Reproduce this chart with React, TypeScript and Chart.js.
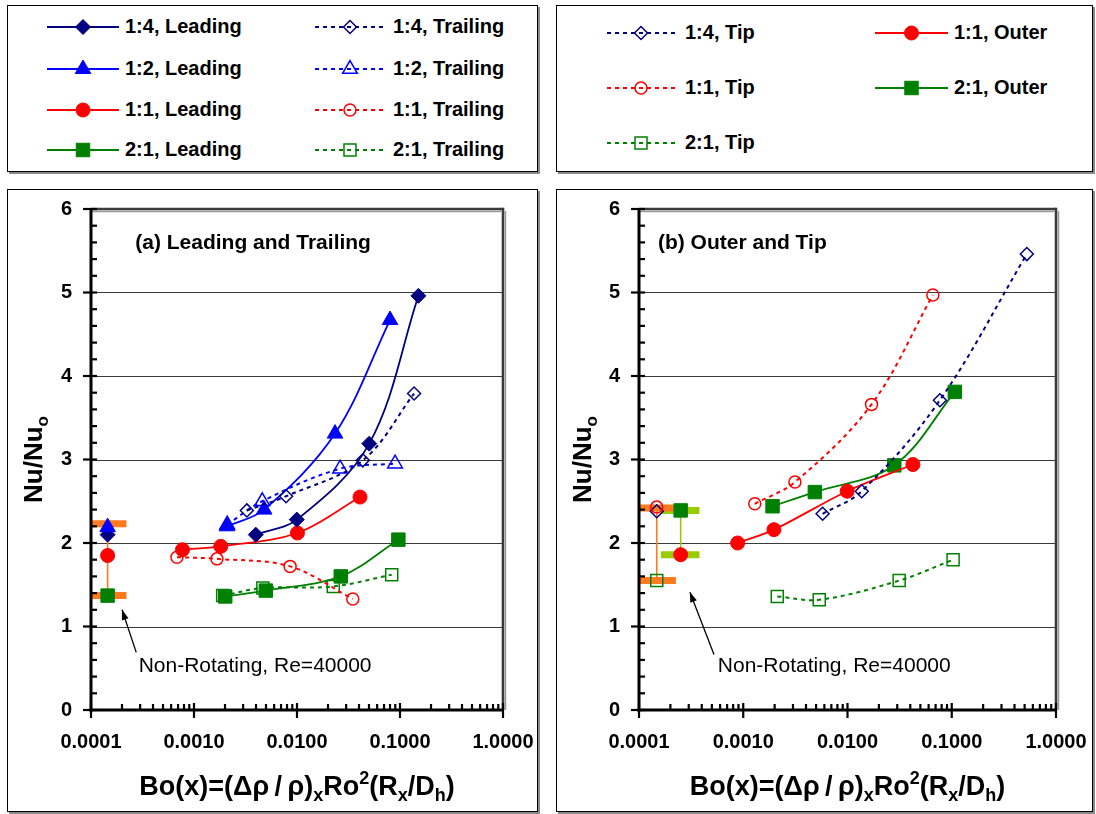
import React, { useEffect, useRef } from "react";
import { Chart, registerables } from "chart.js";
Chart.register(...registerables);

const FONT = '"Liberation Sans", Arial, Helvetica, sans-serif';

// ---------- Panel (a): Leading and Trailing ----------
const a14LeadX = [0.00398, 0.00995, 0.0503, 0.151];
const a14LeadY = [2.1, 2.28, 3.19, 4.96];
const a14TrailX = [0.00326, 0.00783, 0.0435, 0.137];
const a14TrailY = [2.39, 2.56, 2.99, 3.79];
const a12LeadX = [0.00209, 0.0048, 0.0234, 0.08];
const a12LeadY = [2.2, 2.4, 3.31, 4.67];
const a12TrailX = [0.0021, 0.0046, 0.0262, 0.0895];
const a12TrailY = [2.22, 2.5, 2.89, 2.95];
const a11LeadX = [0.000773, 0.00182, 0.0101, 0.0409];
const a11LeadY = [1.92, 1.96, 2.12, 2.55];
const a11TrailX = [0.000683, 0.00167, 0.00857, 0.0348];
const a11TrailY = [1.83, 1.81, 1.72, 1.33];
const a21LeadX = [0.00201, 0.00498, 0.0266, 0.0964];
const a21LeadY = [1.36, 1.43, 1.6, 2.04];
const a21TrailX = [0.0019, 0.00466, 0.0225, 0.0831];
const a21TrailY = [1.37, 1.46, 1.48, 1.62];
// non-rotating values (Re=40000)
const aNonRotX = [0.000145];
const aNonRot12Lead = [2.19];
const aNonRot14Lead = [2.1];
const aNonRot11Lead = [1.85];
const aNonRot21Lead = [1.37];
const aRangeX = [0.0000955, 0.000221];
const aRangeY = [2.23, 1.37];

// ---------- Panel (b): Outer and Tip ----------
const b14TipX = [0.00577, 0.0137, 0.0769, 0.525];
const b14TipY = [2.35, 2.62, 3.71, 5.46];
const b11TipX = [0.00129, 0.00313, 0.017, 0.0659];
const b11TipY = [2.47, 2.73, 3.66, 4.97];
const b21TipX = [0.00212, 0.00536, 0.0313, 0.103];
const b21TipY = [1.36, 1.32, 1.55, 1.8];
const b11OutX = [0.000883, 0.00197, 0.00993, 0.0424];
const b11OutY = [2.0, 2.16, 2.62, 2.94];
const b21OutX = [0.00191, 0.00486, 0.0281, 0.107];
const b21OutY = [2.44, 2.61, 2.93, 3.81];
const bNonRotTipX = [0.000148];
const bNonRot11Tip = [2.43];
const bNonRot14Tip = [2.38];
const bNonRot21Tip = [1.55];
const bNonRotOutX = [0.000251];
const bNonRot21Out = [2.39];
const bNonRot11Out = [1.86];
const bTipRangeX = [0.0000977, 0.000226];
const bTipRangeY = [2.42, 1.55];
const bOutRangeX = [0.000162, 0.00038];
const bOutRangeY = [2.39, 1.86];

// ---------- axes ----------
const xTickValues = [0.0001, 0.001, 0.01, 0.1, 1];
const yTickValues = [0, 1, 2, 3, 4, 5, 6];

type Shape = "diamond" | "triangle" | "circle" | "square";
type Sty = { color: string; shape: Shape; filled: boolean; dashed: boolean };

const S: Record<string, Sty> = {
  navyLead: { color: "#000080", shape: "diamond", filled: true, dashed: false },
  navyTrail: { color: "#000080", shape: "diamond", filled: false, dashed: true },
  blueLead: { color: "#0000FF", shape: "triangle", filled: true, dashed: false },
  blueTrail: { color: "#0000FF", shape: "triangle", filled: false, dashed: true },
  redLead: { color: "#FF0000", shape: "circle", filled: true, dashed: false },
  redTrail: { color: "#FF0000", shape: "circle", filled: false, dashed: true },
  greenLead: { color: "#008000", shape: "square", filled: true, dashed: false },
  greenTrail: { color: "#008000", shape: "square", filled: false, dashed: true },
};

const ORANGE = "#FF7A1F";
const LIME = "#99CC00";

const RAD: Record<string, Record<Shape, number>> = {
  f: { diamond: 7.5, triangle: 9, circle: 7, square: 9.5 },
  o: { diamond: 6.5, triangle: 8.5, circle: 6, square: 8.5 },
};
const PSTYLE: Record<Shape, string> = { diamond: "rectRot", triangle: "triangle", circle: "circle", square: "rect" };

function ds(xs: number[], ys: number[], st: Sty, showLine = true) {
  return {
    data: xs.map((x, i) => ({ x, y: ys[i] })),
    showLine,
    borderColor: st.color,
    backgroundColor: st.filled ? st.color : "rgba(0,0,0,0)",
    borderWidth: st.dashed ? 2 : 1.8,
    borderDash: st.dashed ? [4, 4] : [],
    tension: 0.35,
    pointStyle: PSTYLE[st.shape],
    pointRadius: RAD[st.filled ? "f" : "o"][st.shape],
    pointHoverRadius: RAD[st.filled ? "f" : "o"][st.shape],
    pointBorderWidth: st.filled ? 1 : 1.5,
    pointBorderColor: st.color,
    pointBackgroundColor: st.filled ? st.color : "rgba(0,0,0,0)",
    order: 1,
  };
}
function barDs(xs: number[], y: number, color: string) {
  return {
    data: xs.map((x) => ({ x, y })),
    showLine: true,
    borderColor: color,
    borderWidth: 7,
    pointRadius: 0,
    tension: 0,
    order: 10,
  };
}
function stemDs(x: number, ys: number[], color: string) {
  return {
    data: ys.map((y) => ({ x, y })),
    showLine: true,
    borderColor: color,
    borderWidth: 1.6,
    pointRadius: 0,
    tension: 0,
    order: 9,
  };
}

const datasetsA = [
  ds(a14LeadX, a14LeadY, S.navyLead),
  ds(a14TrailX, a14TrailY, S.navyTrail),
  ds(a12LeadX, a12LeadY, S.blueLead),
  ds(a12TrailX, a12TrailY, S.blueTrail),
  ds(a11LeadX, a11LeadY, S.redLead),
  ds(a11TrailX, a11TrailY, S.redTrail),
  ds(a21LeadX, a21LeadY, S.greenLead),
  ds(a21TrailX, a21TrailY, S.greenTrail),
  ds(aNonRotX, aNonRot12Lead, S.blueLead, false),
  ds(aNonRotX, aNonRot14Lead, S.navyLead, false),
  ds(aNonRotX, aNonRot11Lead, S.redLead, false),
  ds(aNonRotX, aNonRot21Lead, S.greenLead, false),
  barDs(aRangeX, aRangeY[0], ORANGE),
  barDs(aRangeX, aRangeY[1], ORANGE),
  stemDs(aNonRotX[0], aRangeY, ORANGE),
];

const datasetsB = [
  ds(b14TipX, b14TipY, S.navyTrail),
  ds(b11TipX, b11TipY, S.redTrail),
  ds(b21TipX, b21TipY, S.greenTrail),
  ds(b11OutX, b11OutY, S.redLead),
  ds(b21OutX, b21OutY, S.greenLead),
  ds(bNonRotTipX, bNonRot11Tip, S.redTrail, false),
  ds(bNonRotTipX, bNonRot14Tip, S.navyTrail, false),
  ds(bNonRotTipX, bNonRot21Tip, S.greenTrail, false),
  ds(bNonRotOutX, bNonRot21Out, S.greenLead, false),
  ds(bNonRotOutX, bNonRot11Out, S.redLead, false),
  barDs(bTipRangeX, bTipRangeY[0], ORANGE),
  barDs(bTipRangeX, bTipRangeY[1], ORANGE),
  stemDs(bNonRotTipX[0], bTipRangeY, ORANGE),
  barDs(bOutRangeX, bOutRangeY[0], LIME),
  barDs(bOutRangeX, bOutRangeY[1], LIME),
  stemDs(bNonRotOutX[0], bOutRangeY, LIME),
];

type Seg = { t: string; sub?: boolean; sup?: boolean };
const X_TITLE: Seg[] = [
  { t: "Bo(x)=(" },
  { t: "Δρ\u2009/\u2009ρ" },
  { t: ")" },
  { t: "x", sub: true },
  { t: "Ro" },
  { t: "2", sup: true },
  { t: "(R" },
  { t: "x", sub: true },
  { t: "/D" },
  { t: "h", sub: true },
  { t: ")" },
];
const Y_TITLE: Seg[] = [{ t: "Nu/Nu" }, { t: "o", sub: true }];

function drawRich(ctx: CanvasRenderingContext2D, segs: Seg[], x: number, y: number, size: number) {
  const fontOf = (s: Seg) => `bold ${s.sub || s.sup ? Math.round(size * 0.66) : size}px ${FONT}`;
  let total = 0;
  const ws = segs.map((s) => {
    ctx.font = fontOf(s);
    const w = ctx.measureText(s.t).width;
    total += w;
    return w;
  });
  let cx = x - total / 2;
  ctx.textAlign = "left";
  ctx.textBaseline = "alphabetic";
  segs.forEach((s, i) => {
    ctx.font = fontOf(s);
    const dy = s.sub ? size * 0.22 : s.sup ? -size * 0.42 : 0;
    ctx.fillText(s.t, cx, y + dy);
    cx += ws[i];
  });
}

const decor = {
  id: "decor",
  beforeDatasetsDraw(chart: any) {
    const { ctx, chartArea: a, scales } = chart;
    const y = scales.y;
    ctx.save();
    ctx.strokeStyle = "#3a3a3a";
    ctx.lineWidth = 1;
    for (let v = 1; v <= 5; v++) {
      const py = Math.round(y.getPixelForValue(v)) + 0.5;
      ctx.beginPath();
      ctx.moveTo(a.left, py);
      ctx.lineTo(a.right, py);
      ctx.stroke();
    }
    ctx.restore();
  },
  afterDatasetsDraw(chart: any) {
    const { ctx, chartArea: a, scales } = chart;
    const x = scales.x;
    const y = scales.y;
    const line = (x1: number, y1: number, x2: number, y2: number) => {
      ctx.beginPath();
      ctx.moveTo(x1, y1);
      ctx.lineTo(x2, y2);
      ctx.stroke();
    };
    ctx.save();
    // plot area border (top/right)
    ctx.strokeStyle = "#9a9a9a";
    ctx.lineWidth = 1.5;
    line(a.left, a.top + 2.5, a.right - 2, a.top + 2.5);
    line(a.right + 2.5, a.top + 2, a.right + 2.5, a.bottom);
    ctx.strokeStyle = "#3a3a3a";
    ctx.lineWidth = 2.6;
    line(a.left, a.top, a.right, a.top);
    line(a.right, a.top - 1.3, a.right, a.bottom);
    // axes
    ctx.strokeStyle = "#000";
    ctx.lineWidth = 3;
    line(a.left, a.top - 1, a.left, a.bottom + 1.5);
    line(a.left - 1.5, a.bottom, a.right + 1, a.bottom);
    // y ticks
    ctx.lineWidth = 2.2;
    for (let v = 0; v <= 6; v++) {
      const py = y.getPixelForValue(v);
      line(a.left - 8, py, a.left + 6, py);
    }
    for (let v = 0.2; v < 6; v += 0.2) {
      if (Math.abs(v - Math.round(v)) < 1e-6) continue;
      const py = y.getPixelForValue(v);
      line(a.left, py, a.left + 6, py);
    }
    // x ticks
    for (let d = -4; d <= 0; d++) {
      const px = x.getPixelForValue(Math.pow(10, d));
      line(px, a.bottom - 7, px, a.bottom + 8);
      if (d < 0) {
        for (let m = 2; m <= 9; m++) {
          const pm = x.getPixelForValue(m * Math.pow(10, d));
          line(pm, a.bottom - 6, pm, a.bottom);
        }
      }
    }
    ctx.restore();
  },
  afterDraw(chart: any, _args: any, o: any) {
    const { ctx, chartArea: a, scales } = chart;
    const x = scales.x;
    const y = scales.y;
    ctx.save();
    ctx.fillStyle = "#000";
    // axis titles
    drawRich(ctx, X_TITLE, (a.left + a.right) / 2, a.bottom + 85, 27);
    ctx.save();
    ctx.translate(o.yTitleX, (a.top + a.bottom) / 2);
    ctx.rotate(-Math.PI / 2);
    drawRich(ctx, Y_TITLE, 0, 9, 26);
    ctx.restore();
    // panel label
    ctx.font = `bold 21px ${FONT}`;
    ctx.textAlign = "left";
    ctx.textBaseline = "middle";
    ctx.fillText(o.label, x.getPixelForValue(o.labelAt[0]), y.getPixelForValue(o.labelAt[1]));
    // note
    ctx.font = `21px ${FONT}`;
    ctx.fillText(o.note, x.getPixelForValue(o.noteAt[0]), y.getPixelForValue(o.noteAt[1]));
    // arrow
    const x1 = x.getPixelForValue(o.arrowFrom[0]);
    const y1 = y.getPixelForValue(o.arrowFrom[1]);
    const x2 = x.getPixelForValue(o.arrowTo[0]);
    const y2 = y.getPixelForValue(o.arrowTo[1]);
    ctx.strokeStyle = "#000";
    ctx.lineWidth = 1.3;
    ctx.beginPath();
    ctx.moveTo(x1, y1);
    ctx.lineTo(x2, y2);
    ctx.stroke();
    const ang = Math.atan2(y2 - y1, x2 - x1);
    const hl = 10;
    const hw = 3.5;
    ctx.beginPath();
    ctx.moveTo(x2, y2);
    ctx.lineTo(x2 - hl * Math.cos(ang) + hw * Math.sin(ang), y2 - hl * Math.sin(ang) - hw * Math.cos(ang));
    ctx.lineTo(x2 - hl * Math.cos(ang) - hw * Math.sin(ang), y2 - hl * Math.sin(ang) + hw * Math.cos(ang));
    ctx.closePath();
    ctx.fill();
    ctx.restore();
  },
};

function buildConfig(datasets: any[], geo: any, deco: any) {
  const tickFont = { family: FONT, size: 20, weight: "bold" as const };
  return {
    type: "scatter" as const,
    data: { datasets },
    plugins: [decor],
    options: {
      animation: false,
      responsive: false,
      maintainAspectRatio: false,
      layout: { padding: { left: 0, top: geo.top, right: geo.right, bottom: 0 } },
      plugins: { legend: { display: false }, tooltip: { enabled: false }, decor: deco },
      scales: {
        x: {
          type: "logarithmic",
          min: 0.0001,
          max: 1,
          grid: { display: false, drawTicks: false },
          border: { display: false },
          afterBuildTicks: (s: any) => {
            s.ticks = xTickValues.map((value) => ({ value }));
          },
          afterFit: (s: any) => {
            s.height = geo.xAxisH;
            s.paddingLeft = 0;
            s.paddingRight = 0;
          },
          ticks: {
            autoSkip: false,
            maxRotation: 0,
            minRotation: 0,
            padding: 20,
            color: "#000",
            font: tickFont,
            callback: (v: any) => Number(v).toFixed(4),
          },
        },
        y: {
          type: "linear",
          min: 0,
          max: 6,
          grid: { display: false, drawTicks: false },
          border: { display: false },
          afterBuildTicks: (s: any) => {
            s.ticks = yTickValues.map((value) => ({ value }));
          },
          afterFit: (s: any) => {
            s.width = geo.yAxisW;
            s.paddingTop = 0;
            s.paddingBottom = 0;
          },
          ticks: {
            padding: 19,
            color: "#000",
            font: tickFont,
            callback: (v: any) => String(v),
          },
        },
      },
    },
  };
}

function Panel(props: { left: number; top: number; width: number; height: number; datasets: any[]; geo: any; deco: any }) {
  const ref = useRef<HTMLCanvasElement>(null);
  const cw = props.width - 2;
  const chH = props.height - 2;
  useEffect(() => {
    const chart = new Chart(ref.current as HTMLCanvasElement, buildConfig(props.datasets, props.geo, props.deco) as any);
    return () => chart.destroy();
  }, []);
  return (
    <div
      style={{
        position: "absolute",
        left: props.left,
        top: props.top,
        width: props.width,
        height: props.height,
        boxSizing: "border-box",
        border: "1px solid #000",
        boxShadow: "2px 2px 0 #8a8a8a",
        background: "#fff",
      }}
    >
      <canvas ref={ref} width={cw} height={chH} style={{ display: "block", width: cw, height: chH }} />
    </div>
  );
}

function MarkerSvg({ st, cx, cy }: { st: Sty; cx: number; cy: number }) {
  const r = RAD[st.filled ? "f" : "o"][st.shape];
  const fill = st.filled ? st.color : "none";
  const sw = st.filled ? 1 : 1.5;
  if (st.shape === "circle") return <circle cx={cx} cy={cy} r={r} fill={fill} stroke={st.color} strokeWidth={sw} />;
  if (st.shape === "square") {
    const h = r * Math.SQRT1_2;
    return <rect x={cx - h} y={cy - h} width={2 * h} height={2 * h} fill={fill} stroke={st.color} strokeWidth={sw} />;
  }
  if (st.shape === "diamond")
    return <polygon points={`${cx},${cy - r} ${cx + r},${cy} ${cx},${cy + r} ${cx - r},${cy}`} fill={fill} stroke={st.color} strokeWidth={sw} />;
  const a = (r * Math.sqrt(3)) / 2;
  return <polygon points={`${cx},${cy - r} ${cx + a},${cy + r / 2} ${cx - a},${cy + r / 2}`} fill={fill} stroke={st.color} strokeWidth={sw} />;
}

function LegendItem({ st, label, x0, x1, cy, tx }: { st: Sty; label: string; x0: number; x1: number; cy: number; tx: number }) {
  const w = x1 - x0;
  const mid = w / 2;
  return (
    <>
      <svg style={{ position: "absolute", left: x0, top: cy - 12 }} width={w} height={24}>
        <line
          x1={0}
          y1={12}
          x2={w}
          y2={12}
          stroke={st.color}
          strokeWidth={st.dashed ? 2 : 1.8}
          strokeDasharray={st.dashed ? "4 4" : undefined}
        />
        <MarkerSvg st={st} cx={mid} cy={12} />
      </svg>
      <div
        style={{
          position: "absolute",
          left: tx,
          top: cy - 12,
          height: 24,
          lineHeight: "24px",
          font: `bold 20px ${FONT}`,
          color: "#000",
          whiteSpace: "nowrap",
        }}
      >
        {label}
      </div>
    </>
  );
}

const legendA = [
  { st: S.navyLead, label: "1:4, Leading" },
  { st: S.blueLead, label: "1:2, Leading" },
  { st: S.redLead, label: "1:1, Leading" },
  { st: S.greenLead, label: "2:1, Leading" },
];
const legendA2 = [
  { st: S.navyTrail, label: "1:4, Trailing" },
  { st: S.blueTrail, label: "1:2, Trailing" },
  { st: S.redTrail, label: "1:1, Trailing" },
  { st: S.greenTrail, label: "2:1, Trailing" },
];
const legendB = [
  { st: S.navyTrail, label: "1:4, Tip" },
  { st: S.redTrail, label: "1:1, Tip" },
  { st: S.greenTrail, label: "2:1, Tip" },
];
const legendB2 = [
  { st: S.redLead, label: "1:1, Outer" },
  { st: S.greenLead, label: "2:1, Outer" },
];

const boxStyle = (left: number, top: number, width: number, height: number): React.CSSProperties => ({
  position: "absolute",
  left,
  top,
  width,
  height,
  boxSizing: "border-box",
  border: "1px solid #000",
  boxShadow: "2px 2px 0 #8a8a8a",
  background: "#fff",
});

export default function App() {
  const rowsA = [27, 69, 110, 150];
  const rowsB = [33, 88, 143];
  return (
    <div style={{ position: "absolute", left: 0, top: 0, width: 1096, height: 814, background: "#fff", overflow: "hidden" }}>
      <div style={boxStyle(7, 5, 531, 167)} />
      {legendA.map((it, i) => (
        <LegendItem key={"la" + i} st={it.st} label={it.label} x0={47} x1={119} cy={rowsA[i]} tx={125} />
      ))}
      {legendA2.map((it, i) => (
        <LegendItem key={"lb" + i} st={it.st} label={it.label} x0={315} x1={385} cy={rowsA[i]} tx={393} />
      ))}
      <div style={boxStyle(556, 5, 537, 167)} />
      {legendB.map((it, i) => (
        <LegendItem key={"lc" + i} st={it.st} label={it.label} x0={607} x1={675} cy={rowsB[i]} tx={685} />
      ))}
      {legendB2.map((it, i) => (
        <LegendItem key={"ld" + i} st={it.st} label={it.label} x0={875} x1={948} cy={rowsB[i]} tx={954} />
      ))}
      <Panel
        left={7}
        top={189}
        width={531}
        height={623}
        datasets={datasetsA}
        geo={{ top: 19, right: 34, xAxisH: 101, yAxisW: 83 }}
        deco={{
          yTitleX: 25,
          label: "(a) Leading and Trailing",
          labelAt: [0.000269, 5.59],
          note: "Non-Rotating, Re=40000",
          noteAt: [0.00029, 0.53],
          arrowFrom: [0.000275, 0.69],
          arrowTo: [0.0002, 1.2],
        }}
      />
      <Panel
        left={556}
        top={189}
        width={537}
        height={623}
        datasets={datasetsB}
        geo={{ top: 19, right: 36, xAxisH: 101, yAxisW: 82 }}
        deco={{
          yTitleX: 25,
          label: "(b) Outer and Tip",
          labelAt: [0.000152, 5.59],
          note: "Non-Rotating, Re=40000",
          noteAt: [0.00057, 0.52],
          arrowFrom: [0.000524, 0.665],
          arrowTo: [0.000308, 1.41],
        }}
      />
    </div>
  );
}
